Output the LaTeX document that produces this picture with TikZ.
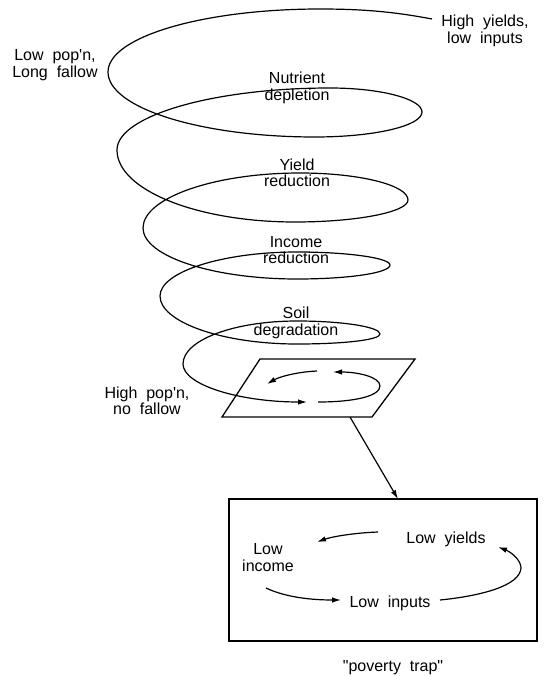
\documentclass[tikz,border=0pt]{standalone}
\usepackage{fontspec}
\setmainfont[WordSpace=2.0]{Liberation Sans}
\usetikzlibrary{arrows.meta}
\begin{document}
\begin{tikzpicture}[x=1pt,y=-1pt,
  lbl/.style={font=\fontsize{16}{16.5}\selectfont, align=center, inner sep=0pt},
  curve/.style={line width=1.2pt},
  frame/.style={line width=1.3pt},
  tipped/.style={-{Latex[length=9pt,width=5.5pt]}}
]
\useasboundingbox (0,0) rectangle (544,677);

% labels
\node[lbl] (hy) at (485,31) {High yields,\\low inputs};
\node[lbl] (lp) at (55,65) {Low pop\textquotesingle n,\\Long fallow};
\node[lbl] (nd) at (297,88) {Nutrient\\depletion};
\node[lbl] (yr) at (297,173) {Yield\\reduction};
\node[lbl] (ir) at (296,250) {Income\\reduction};
\node[lbl] (sd) at (296,323) {Soil\\degradation};
\node[lbl] (hp) at (147,401) {High pop\textquotesingle n,\\no fallow};

% spiral
\coordinate (S) at (432,19);
\coordinate (E) at (307,402);
\draw[curve, tipped] (S)
  .. controls (400,13) and (370,9) .. (320,9)
  .. controls (203,9) and (108,37) .. (108,72)
  .. controls (108,108) and (201,137) .. (315,137)
  .. controls (374,137) and (422,126) .. (422,112)
  .. controls (422,99) and (381,88) .. (330,88)
  .. controls (213,88) and (117,116) .. (117,150)
  .. controls (117,190) and (197,222) .. (295,222)
  .. controls (357,222) and (408,212) .. (408,200)
  .. controls (408,185) and (359,173) .. (300,173)
  .. controls (214,173) and (143,198) .. (143,228)
  .. controls (143,256) and (212,279) .. (297,279)
  .. controls (348,279) and (390,273) .. (390,265)
  .. controls (390,258) and (348,252) .. (297,252)
  .. controls (222,252) and (160,272) .. (160,296)
  .. controls (160,322) and (222,344) .. (297,344)
  .. controls (343,344) and (380,340) .. (380,334)
  .. controls (380,327) and (343,321) .. (297,321)
  .. controls (234,321) and (183,340) .. (183,364)
  .. controls (183,385) and (240,402) .. (E);

% parallelogram
\coordinate (p1) at (260,359);
\coordinate (p2) at (415,359);
\coordinate (p3) at (372,417);
\coordinate (p4) at (222,417);
\draw[frame] (p1) -- (p2) -- (p3) -- (p4) -- cycle;

% small loop inside parallelogram
\coordinate (a1s) at (318,402);
\coordinate (a1e) at (333,372);
\coordinate (a2s) at (317,371);
\coordinate (a2e) at (267,384);
\draw[curve, tipped] (a1s) .. controls (355,402) and (380,396) .. (380,386)
  .. controls (380,377) and (358,372) .. (a1e);
\draw[curve, tipped] (a2s) .. controls (296,372) and (279,377) .. (a2e);

% box
\node[frame, draw, minimum width=308pt, minimum height=142pt, inner sep=0pt] (box) at (383,570) {};
\coordinate (pb) at (350,417);
\coordinate (boxin) at (398,499);
\draw[curve, tipped] (pb) -- (boxin);

\node[lbl] (ly) at (446,539) {Low yields};
\node[lbl, font=\fontsize{16}{17}\selectfont] (li) at (268,558) {Low\\income};
\node[lbl] (lin) at (390,603) {Low inputs};
\node[lbl] (pt) at (393,668) {\textquotedbl poverty trap\textquotedbl};

\coordinate (b1s) at (378,532);
\coordinate (b1e) at (317,542);
\coordinate (b2s) at (266,588);
\coordinate (b2e) at (341,600);
\coordinate (b3s) at (440,600);
\coordinate (b3e) at (498,547);
\draw[curve, tipped] (b1s) .. controls (352,533) and (331,537) .. (b1e);
\draw[curve, tipped] (b2s) .. controls (285,597) and (310,600) .. (b2e);
\draw[curve, tipped] (b3s) .. controls (480,596) and (520,586) .. (521,568)
  .. controls (521,560) and (511,552) .. (b3e);
\end{tikzpicture}
\end{document}
